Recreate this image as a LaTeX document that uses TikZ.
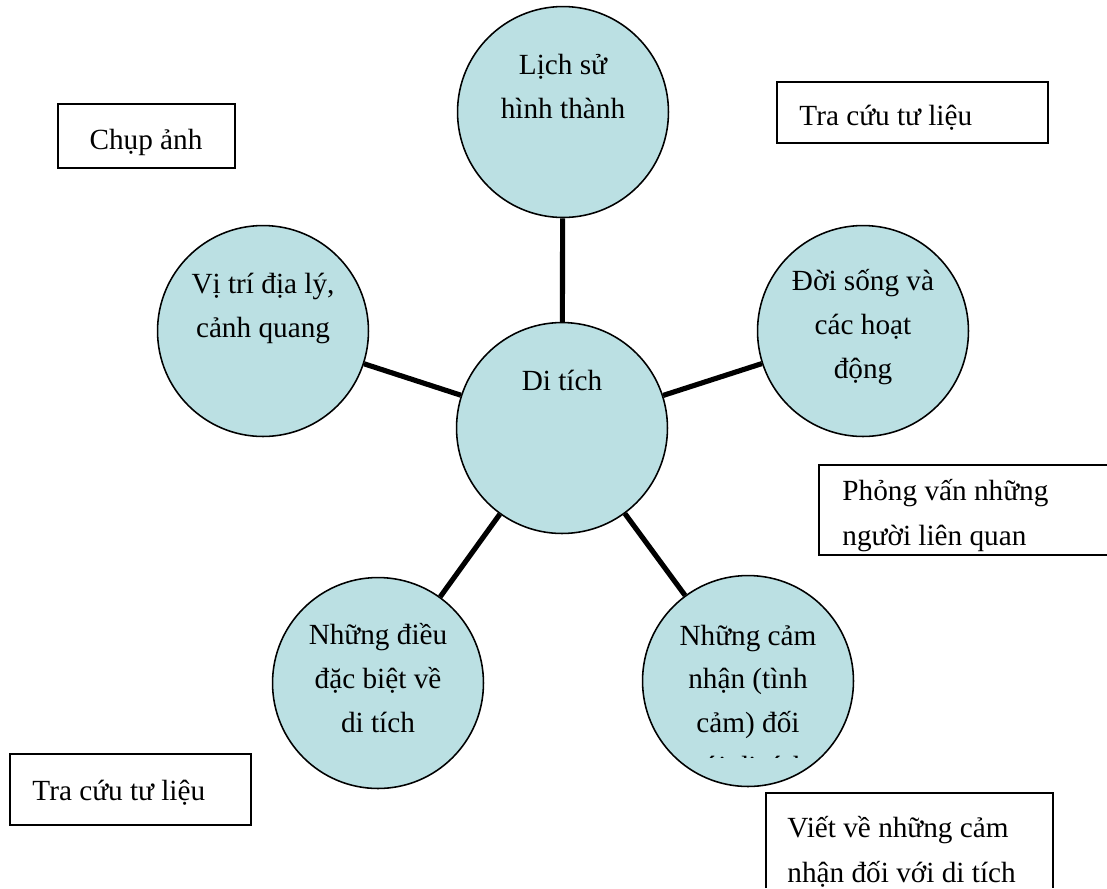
\documentclass[tikz,border=0pt]{standalone}
\usepackage{fontspec}
\setmainfont{Liberation Serif}
\definecolor{bubblefill}{RGB}{187,224,227}

\begin{document}
\begin{tikzpicture}[x=0.448pt,y=-0.448pt,
    bubble/.style={circle,draw,line width=0.7pt,fill=bubblefill,minimum size=94.5pt,inner sep=0pt},
    txt/.style={align=center,anchor=base,inner sep=0pt,font=\fontsize{13.1}{19.5}\selectfont},
    note/.style={align=left,anchor=base west,inner sep=0pt,font=\fontsize{13.1}{20}\selectfont},
    frame/.style={draw,line width=0.7pt},
    link/.style={line width=2.3pt}]
    \useasboundingbox (0,0) rectangle (1107,888);

    % the circles
    \node[bubble] (hist) at (563,112) {};
    \node[bubble] (site) at (263,331) {};
    \node[bubble] (life) at (863,331) {};
    \node[bubble] (relic) at (562,428) {};
    \node[bubble] (special) at (378,683) {};
    \node[bubble] (feel) at (748,681) {};

    \draw[link] (hist) -- (relic);
    \draw[link] (site) -- (relic);
    \draw[link] (life) -- (relic);
    \draw[link] (special) -- (relic);
    \draw[link] (feel) -- (relic);

    % texts sit on the baseline of their last line
    \path (hist.center) ++(0,6) node[txt] (histtext) {Lịch sử\\hình thành};
    \path (site.center) ++(0,6) node[txt] (sitetext) {Vị trí địa lý,\\cảnh quang};
    \path (life.center) ++(0,47) node[txt] (lifetext) {Đời sống và\\các hoạt\\động};
    \path (relic.center) ++(0,-38) node[txt] (relictext) {Di tích};
    \path (special.center) ++(0,49) node[txt] (specialtext) {Những điều\\đặc biệt về\\di tích};
    \begin{scope}
        \clip (643,560) rectangle (853,757);
        \path (feel.center) ++(0,95) node[txt] (feeltext) {Những cảm\\nhận (tình\\cảm) đối\\với di tích};
    \end{scope}

    % the boxes
    \draw[frame] (58,104) rectangle (235,168);
    \node[txt] (photo) at (146,149) {Chụp ảnh};
    \draw[frame] (777,82) rectangle (1048,143);
    \node[note] (lookup) at (799,125) {Tra cứu tư liệu};
    \draw[frame] (1107,465) -| (819,555) -- (1107,555);
    \begin{scope}
        \clip (819,465) rectangle (1107,553);
        \node[note] (interview) at (842,545) {Phỏng vấn những\\người liên quan};
    \end{scope}
    \draw[frame] (10,754) rectangle (251,825);
    \node[note] (source) at (32,800) {Tra cứu tư liệu};
    \draw[frame] (766,888) |- (1053,793) -- (1053,888);
    \begin{scope}
        \clip (766,793) rectangle (1053,888);
        \node[note] (write) at (787,882) {Viết về những cảm\\nhận đối với di tích};
    \end{scope}
\end{tikzpicture}
\end{document}
